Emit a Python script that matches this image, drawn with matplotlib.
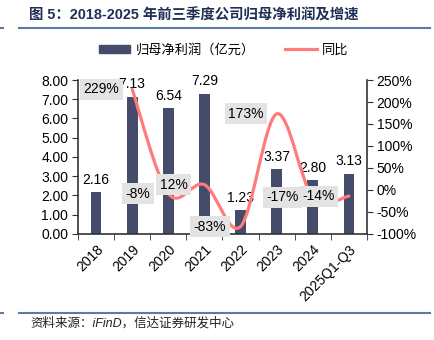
import numpy as np
import matplotlib
matplotlib.use("Agg")
import matplotlib.pyplot as plt
from matplotlib.path import Path
from matplotlib.patches import PathPatch
from matplotlib.lines import Line2D

plt.rcParams['font.family'] = ['Liberation Sans', 'Noto Sans CJK SC']

# data
years = ["2018", "2019", "2020", "2021", "2022", "2023", "2024", "2025Q1-Q3"]
profit = [2.16, 7.13, 6.54, 7.29, 1.23, 3.37, 2.80, 3.13]
yoy = [None, 229, -8, 12, -83, 173, -17, -14]
yoy_labels = ["229%", "-8%", "12%", "-83%", "173%", "-17%", "-14%"]

bar_color = "#454C6B"
line_color = "#FF7B7B"
fs = 10

fig = plt.figure(figsize=(4.34, 3.40), dpi=100)
ax = fig.add_axes([0.1797, 0.3118, 0.6659, 0.4529])
ax2 = ax.twinx()

x = np.arange(len(years))
ax.bar(x, profit, width=0.3, color=bar_color, zorder=2)
for xi, v in zip(x, profit):
    ax.annotate(f"{v:.2f}", (xi, v), xytext=(0, 4), textcoords="offset points",
                ha="center", va="bottom", fontsize=fs, color="black", zorder=3)

# smoothed line (catmull-rom -> bezier, like excel smoothing)
px = [xi for xi, v in zip(x, yoy) if v is not None]
py = [v for v in yoy if v is not None]
pts = np.column_stack([px, py]).astype(float)
verts = [tuple(pts[0])]
codes = [Path.MOVETO]
n = len(pts)
for i in range(n - 1):
    p0 = pts[i - 1] if i > 0 else pts[i]
    p1 = pts[i]
    p2 = pts[i + 1]
    p3 = pts[i + 2] if i + 2 < n else pts[i + 1]
    c1 = p1 + (p2 - p0) / 6
    c2 = p2 - (p3 - p1) / 6
    verts += [tuple(c1), tuple(c2), tuple(p2)]
    codes += [Path.CURVE4] * 3
ax2.add_patch(PathPatch(Path(verts, codes), facecolor="none", edgecolor=line_color,
                        lw=2.3, capstyle="round", zorder=3))

for xi, yi, lab in zip(px, py, yoy_labels):
    ax2.annotate(lab, (xi, yi), xytext=(-22, 0), textcoords="offset points",
                 ha="center", va="center", fontsize=fs, color="black", zorder=4,
                 bbox=dict(boxstyle="square,pad=0.25", fc="#E3E3E3", ec="none"))

ax.set_ylim(0, 8)
ax.set_yticks(np.arange(0, 9, 1))
ax.set_yticklabels([f"{v:.2f}" for v in np.arange(0, 9, 1)])
ax2.set_ylim(-100, 250)
ax2.set_yticks(np.arange(-100, 251, 50))
ax2.set_yticklabels([f"{v}%" for v in range(-100, 251, 50)])
ax.set_xlim(-0.5, len(years) - 0.5)
ax.set_xticks(x)
ax.set_xticklabels(years, rotation=45, ha="right", va="top", rotation_mode="anchor")
ax.set_xticks(np.arange(-0.5, len(years), 1), minor=True)
ax.tick_params(axis="x", which="major", length=0, pad=6, labelsize=fs)
ax.tick_params(axis="x", which="minor", length=4, direction="out", color="#333333")
ax.tick_params(axis="y", length=4, direction="out", labelsize=fs, color="#333333", pad=3)
ax2.tick_params(axis="y", length=4, direction="out", labelsize=fs, color="#333333", pad=3)

for a in (ax, ax2):
    a.spines["top"].set_visible(False)
    for s in ("left", "right", "bottom"):
        a.spines[s].set_color("#333333")
        a.spines[s].set_linewidth(1.2)
ax.spines["right"].set_visible(False)
ax2.spines["left"].set_visible(False)
ax2.spines["bottom"].set_visible(False)

# legend
handles = [plt.Rectangle((0, 0), 1, 1, color=bar_color),
           Line2D([0], [0], color=line_color, lw=2.3)]
fig.legend(handles, ["归母净利润（亿元）", "同比"], loc="center", ncol=2,
           bbox_to_anchor=(0.515, 0.853), frameon=False, fontsize=9.5,
           handlelength=2.4, handleheight=0.5, columnspacing=2.3, handletextpad=0.4)

# title and source
fig.text(0.067, 0.955, "图 5：2018-2025 年前三季度公司归母净利润及增速", fontsize=10.4,
         fontweight="bold", color="#1F2F55", ha="left", va="center")
fig.add_artist(Line2D([0.044, 0.99], [0.917, 0.917], color="#5B7AA6", lw=1.5))
fig.add_artist(Line2D([0.0, 0.007], [0.917, 0.917], color="#5B7AA6", lw=1.5))
fig.add_artist(Line2D([0.044, 0.99], [0.079, 0.079], color="#5B7AA6", lw=1.5))
fig.add_artist(Line2D([0.0, 0.007], [0.079, 0.079], color="#5B7AA6", lw=1.5))
fig.text(0.069, 0.05, "资料来源：iFinD，信达证券研发中心", fontsize=9,
         style="italic", color="#222222", ha="left", va="center")

fig.savefig("out.png", dpi=100)
